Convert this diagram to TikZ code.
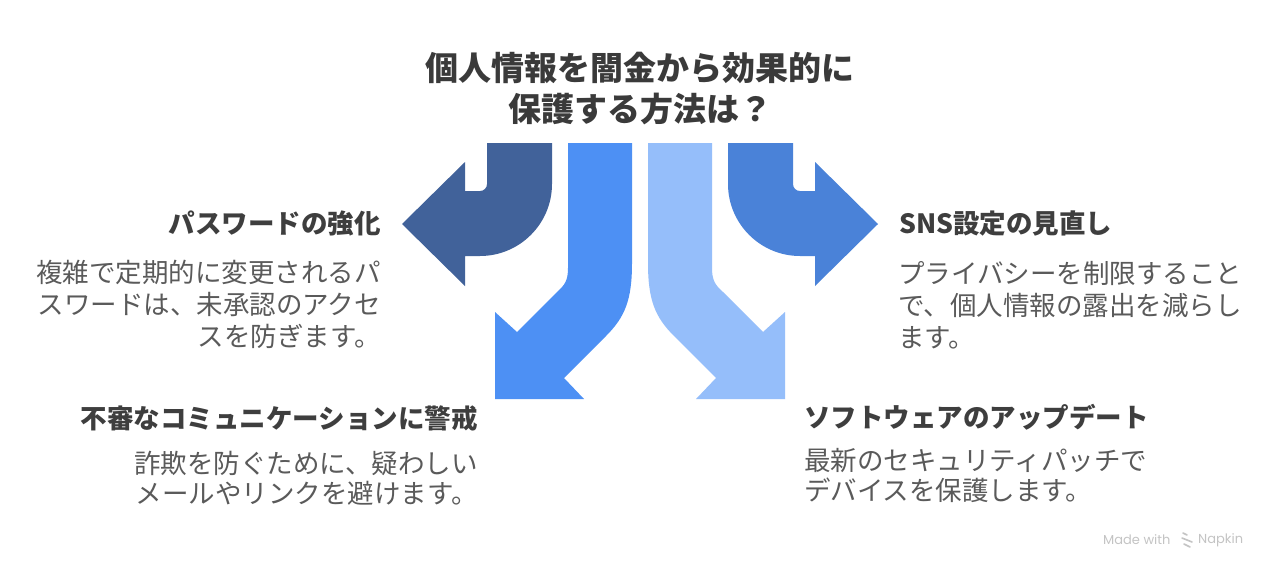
\documentclass[tikz,border=0pt]{standalone}
\usepackage{fontspec}
\setmainfont{Noto Sans CJK JP}
\newfontfamily\napkinfont{Poppins}
\definecolor{arrdark}{HTML}{41629A}
\definecolor{arrmid}{HTML}{4A82D8}
\definecolor{arrblue}{HTML}{4D90F4}
\definecolor{arrlight}{HTML}{95BEFA}
\definecolor{titlecol}{HTML}{3A3A3A}
\definecolor{headcol}{HTML}{3E3E3E}
\definecolor{bodycol}{HTML}{5A5A5A}
\definecolor{markcol}{HTML}{C4C4C4}
\tikzset{
  titletext/.style={font=\fontsize{33}{41}\selectfont\bfseries, text=titlecol, align=center, inner sep=0pt},
  headtext/.style={font=\fontsize{26.5}{32}\selectfont\bfseries, text=headcol, inner sep=0pt},
  bodytext/.style={font=\fontsize{26.5}{32}\selectfont, text=bodycol, inner sep=0pt},
  bodytextb/.style={font=\fontsize{26.5}{29.5}\selectfont, text=bodycol, inner sep=0pt},
  marktext/.style={font=\napkinfont\fontsize{13}{15}\selectfont, text=markcol, anchor=west, inner sep=0pt},
}
\begin{document}
\begin{tikzpicture}[x=1pt,y=-1pt]
\useasboundingbox[fill=white] (0,0) rectangle (1280,576);

% title (base anchor = baseline of last line)
\node[titletext, anchor=base] (title) at (640,121.5) {個人情報を闇金から効果的に\\保護する方法は？};

% dark left arrow
\fill[arrdark] (487,143) -- (552,143) -- (552,184)
  .. controls (552,223.7) and (519.7,256) .. (480,256)
  -- (465,256) -- (465,286) -- (402,224) -- (465,162) -- (465,191) -- (480,191)
  .. controls (483.9,191) and (487,187.9) .. (487,184) -- cycle;

% medium right arrow (mirror)
\fill[arrmid] (793,143) -- (728,143) -- (728,184)
  .. controls (728,223.7) and (760.3,256) .. (800,256)
  -- (815,256) -- (815,286) -- (878,224) -- (815,162) -- (815,191) -- (800,191)
  .. controls (796.1,191) and (793,187.9) .. (793,184) -- cycle;

% blue down-left arrow
\fill[arrblue] (568,143) -- (632,143) -- (632,263)
  .. controls (632,300) and (625,317) .. (606,336)
  -- (564,378) -- (584,399) -- (495,399) -- (495,312) -- (517,332) -- (557,292)
  .. controls (565,285) and (568,280) .. (568,268) -- cycle;

% light down-right arrow (mirror)
\fill[arrlight] (712,143) -- (648,143) -- (648,263)
  .. controls (648,300) and (655,317) .. (674,336)
  -- (716,378) -- (696,399) -- (785,399) -- (785,312) -- (763,332) -- (723,292)
  .. controls (715,285) and (712,280) .. (712,268) -- cycle;

% top-left block
\node[headtext, anchor=base east] (h1) at (381,233) {パスワードの強化};
\node[bodytext, anchor=base east, align=right] (b1) at (381,346) {複雑で定期的に変更されるパ\\スワードは、未承認のアクセ\\スを防ぎます。};

% top-right block
\node[headtext, anchor=base west] (h2) at (899,233) {SNS設定の見直し};
\node[bodytext, anchor=base west, align=left] (b2) at (898,347) {プライバシーを制限すること\\で、個人情報の露出を減らし\\ます。};

% bottom-left block
\node[headtext, anchor=base east] (h3) at (478,428) {不審なコミュニケーションに警戒};
\node[bodytextb, anchor=base east, align=right] (b3) at (478,503) {詐欺を防ぐために、疑わしい\\メールやリンクを避けます。};

% bottom-right block
\node[headtext, anchor=base west] (h4) at (804,427) {ソフトウェアのアップデート};
\node[bodytextb, anchor=base west, align=left] (b4) at (804,500) {最新のセキュリティパッチで\\デバイスを保護します。};

% watermark
\node[marktext] (made) at (1103,540) {Made with};
\node[marktext] (napkin) at (1198,540) {Napkin};
\draw[markcol, line width=1.6pt, line cap=round] (1183,533) -- (1187,535) (1182,538) -- (1192,542) (1184,544) -- (1190,547);
\end{tikzpicture}
\end{document}
